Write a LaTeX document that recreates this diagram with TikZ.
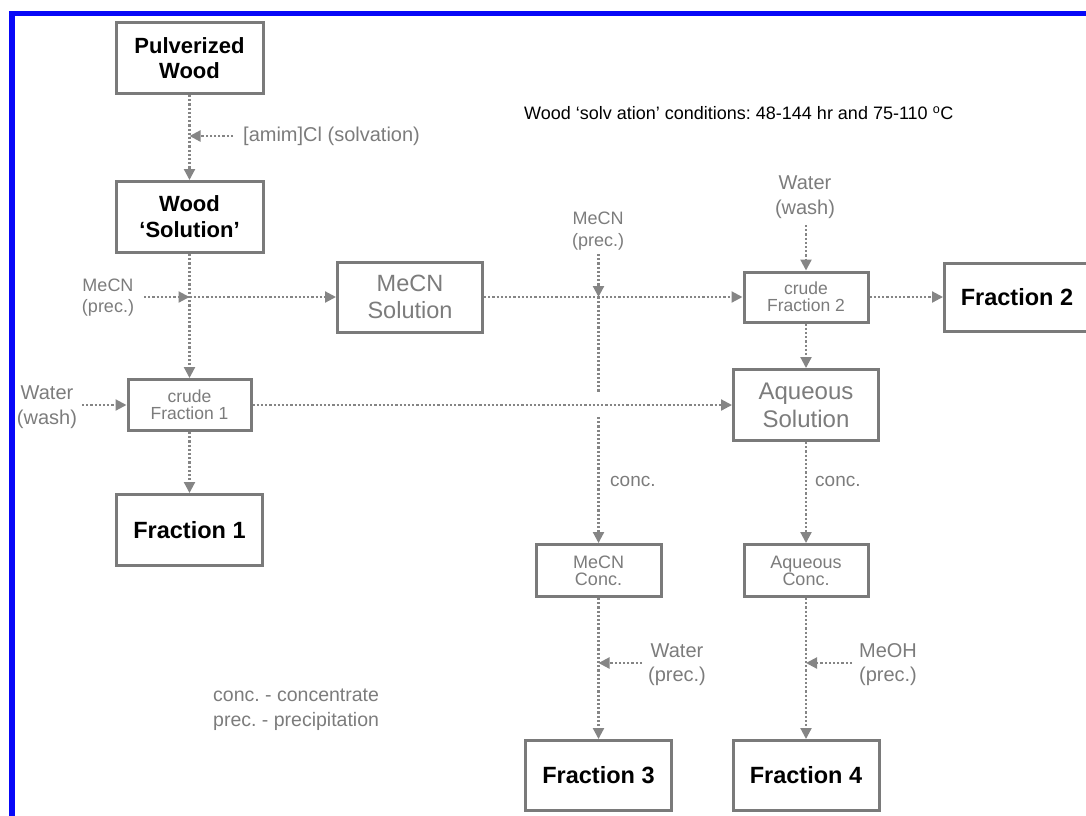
\documentclass[tikz,border=0pt]{standalone}
\usepackage{fontspec}
\setmainfont{Liberation Sans}
\usetikzlibrary{arrows.meta}
\frenchspacing
\definecolor{boxgray}{HTML}{7A7A7A}
\definecolor{linegray}{HTML}{858585}
\definecolor{txtgray}{HTML}{7C7C7C}
\definecolor{frameblue}{HTML}{0808F8}
\tikzset{
  box/.style={draw=boxgray, line width=3pt, fill=white, inner sep=0pt, align=center},
  mainbox/.style={box, text=black, font=\bfseries\fontsize{23.5}{26}\selectfont},
  procbox/.style={box, text=txtgray},
  lbl/.style={text=txtgray, inner sep=0pt, align=center},
  conn/.style={draw=linegray, line width=2.2pt, dash pattern=on 2.2pt off 2pt},
  arr/.style={conn, -{Triangle[length=11pt,width=11pt]}},
  frame/.style={draw=frameblue, line width=5.5pt}
}
\begin{document}
\begin{tikzpicture}[x=1pt,y=-1pt]
\useasboundingbox (0,0) rectangle (1086,815);
\clip (0,0) rectangle (1086,815);
\draw[frame] (12,830) -- (12,13.5) -- (1100,13.5);

% boxes
\node[mainbox, font=\bfseries\fontsize{22}{25}\selectfont, minimum width=147pt, minimum height=71pt] (pw) at (189.5,58) {Pulverized\\Wood};
\node[mainbox, font=\bfseries\fontsize{22}{26}\selectfont, minimum width=147pt, minimum height=71pt] (ws) at (189.5,217) {Wood\\‘Solution’};
\node[procbox, font=\fontsize{23.5}{27}\selectfont, minimum width=145pt, minimum height=70pt] (ms) at (410,297) {MeCN\\Solution};
\node[procbox, font=\fontsize{17.5}{17}\selectfont, minimum width=123pt, minimum height=51pt] (cf1) at (189.5,405) {crude\\Fraction 1};
\node[mainbox, minimum width=146pt, minimum height=71pt] (f1) at (189.5,530) {Fraction 1};
\node[procbox, font=\fontsize{17.5}{17}\selectfont, minimum width=124pt, minimum height=50pt] (cf2) at (806,297) {crude\\Fraction 2};
\node[mainbox, minimum width=145pt, minimum height=68pt] (f2) at (1017,297) {Fraction 2};
\node[procbox, font=\fontsize{24}{28}\selectfont, minimum width=145pt, minimum height=71pt] (aq) at (806,405) {Aqueous\\Solution};
\node[procbox, font=\fontsize{18}{17}\selectfont, minimum width=125pt, minimum height=52pt] (mc) at (598.5,570.5) {MeCN\\Conc.};
\node[procbox, font=\fontsize{18}{17}\selectfont, minimum width=124pt, minimum height=52pt] (ac) at (806,570.5) {Aqueous\\Conc.};
\node[mainbox, minimum width=146pt, minimum height=70pt] (f3) at (598.5,775.5) {Fraction 3};
\node[mainbox, minimum width=146pt, minimum height=70pt] (f4) at (806,775.5) {Fraction 4};

% labels
\node[lbl, font=\fontsize{20}{25}\selectfont, anchor=west] (amim) at (243,136) {[amim]Cl (solvation)};
\node[lbl, font=\fontsize{18}{21}\selectfont] (mecnL) at (108,298) {MeCN\\(prec.)};
\node[lbl, font=\fontsize{20}{25}\selectfont] (waterL) at (47,407) {Water\\(wash)};
\node[lbl, font=\fontsize{18}{22}\selectfont] (mecnT) at (598,231) {MeCN\\(prec.)};
\node[lbl, font=\fontsize{20}{25}\selectfont] (waterT) at (805,197) {Water\\(wash)};
\node[lbl, font=\fontsize{19}{24}\selectfont, anchor=west] (conc1) at (610,481) {conc.};
\node[lbl, font=\fontsize{19}{24}\selectfont, anchor=west] (conc2) at (815,481) {conc.};
\node[lbl, font=\fontsize{20}{24}\selectfont] (waterP) at (677,665) {Water\\(prec.)};
\node[lbl, font=\fontsize{20}{24}\selectfont] (meohP) at (888,665) {MeOH\\(prec.)};
\node[lbl, font=\fontsize{19.5}{25}\selectfont, anchor=west, align=left] (legend) at (213,710) {conc. - concentrate\\prec. - precipitation};
\node[inner sep=0pt, anchor=west, text=black, font=\fontsize{18}{22}\selectfont] (title) at (524,113) {Wood ‘solv ation’ conditions: 48-144 hr and 75-110 \textsuperscript{o}C};

% junctions and free ends
\coordinate (j0) at (189.5,136);
\coordinate (amS) at (233,136);
\coordinate (j1) at (189.5,297);
\coordinate (mlS) at (144,297);
\coordinate (wlS) at (82,405);
\coordinate (j2) at (598.5,297);
\coordinate (mtS) at (598.5,254);
\coordinate (wtS) at (806,225);
\coordinate (gapA) at (598.5,393);
\coordinate (gapB) at (598.5,417);
\coordinate (j3) at (598.5,663);
\coordinate (wpS) at (642,663);
\coordinate (j4) at (806,663);
\coordinate (moS) at (852,663);

% connectors
\draw[arr] (pw.south) -- (ws.north);
\draw[arr] (amS) -- (j0);
\draw[arr] (ws.south) -- (cf1.north);
\draw[arr] (mlS) -- (j1);
\draw[arr] (j1) -- (ms.west);
\draw[arr] (wlS) -- (cf1.west);
\draw[arr] (cf1.south) -- (f1.north);
\draw[arr] (ms.east) -- (cf2.west);
\draw[arr] (mtS) -- (j2);
\draw[conn] (j2) -- (gapA);
\draw[arr] (gapB) -- (mc.north);
\draw[arr] (cf1.east) -- (aq.west);
\draw[arr] (wtS) -- (cf2.north);
\draw[arr] (cf2.east) -- (f2.west);
\draw[arr] (cf2.south) -- (aq.north);
\draw[arr] (aq.south) -- (ac.north);
\draw[arr] (mc.south) -- (f3.north);
\draw[arr] (wpS) -- (j3);
\draw[arr] (ac.south) -- (f4.north);
\draw[arr] (moS) -- (j4);
\end{tikzpicture}
\end{document}
